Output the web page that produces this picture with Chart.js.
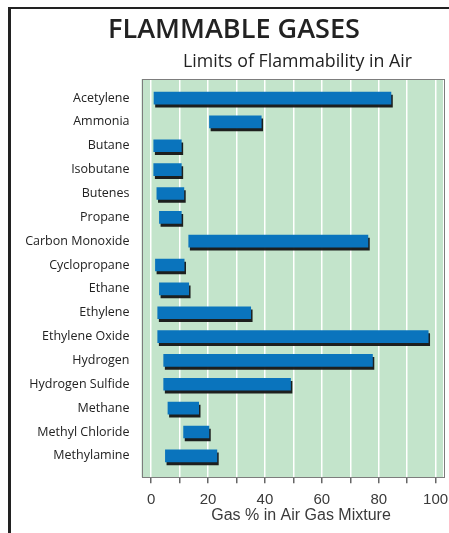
<!DOCTYPE html>
<html>
<head>
<meta charset="utf-8">
<title>Flammable Gases</title>
<script src="https://cdn.jsdelivr.net/npm/chart.js@4.4.1/dist/chart.umd.min.js"></script>
<style>
  html, body { margin: 0; padding: 0; background: #fff; }
  #wrap { position: relative; width: 449px; height: 533px; overflow: hidden; }
  #frame {
    position: absolute; left: 8px; top: 7px; right: -10px; bottom: -10px;
    border-left: 3px solid #222; border-top: 2px solid #222;
  }
  canvas { position: absolute; left: 0; top: 0; }
</style>
</head>
<body>
<div id="wrap">
  <div id="frame"></div>
  <canvas id="gasChart" width="449" height="533"></canvas>
</div>
<script>
// chart data
const gases = ['Acetylene', 'Ammonia', 'Butane', 'Isobutane', 'Butenes', 'Propane',
  'Carbon Monoxide', 'Cyclopropane', 'Ethane', 'Ethylene', 'Ethylene Oxide',
  'Hydrogen', 'Hydrogen Sulfide', 'Methane', 'Methyl Chloride', 'Methylamine'];
const lowerLimit = [1.0, 20.5, 0.9, 0.9, 2.0, 2.9, 13.2, 1.5, 2.9, 2.3, 2.3, 4.4, 4.4, 5.9, 11.4, 5.0];
const upperLimit = [84.3, 38.7, 10.6, 10.6, 11.5, 10.6, 76.2, 11.6, 13.2, 35.0, 97.4, 77.8, 49.0, 16.7, 20.3, 23.1];
const xTicks = [0, 10, 20, 30, 40, 50, 60, 70, 80, 90, 100];

const mainTitle = 'FLAMMABLE GASES';
const subTitle = 'Limits of Flammability in Air';
const xTitle = 'Gas % in Air Gas Mixture';

const plotGreen = '#c3e4cb';
const barBlue = '#0a74bd';
const textDark = '#222';
const axisGrey = '#3a3a3a';
const axisFont = '"Liberation Sans", Arial, sans-serif';
const labelFont = '"Open Sans", "Noto Sans", sans-serif';

// font size that makes a text span a given width
function fitSize(ctx, text, weight, family, width) {
  ctx.font = weight + ' 20px ' + family;
  return 20 * width / ctx.measureText(text).width;
}

// green plot background + grey frame round it
const plotBackground = {
  id: 'plotBackground',
  beforeDraw(chart) {
    const { ctx, chartArea: a } = chart;
    ctx.save();
    ctx.fillStyle = plotGreen;
    ctx.fillRect(a.left, a.top, a.right - a.left, a.bottom - a.top);
    ctx.restore();
  },
  afterDraw(chart) {
    const { ctx, chartArea: a } = chart;
    ctx.save();
    ctx.strokeStyle = '#7d7d7d';
    ctx.lineWidth = 1;
    ctx.strokeRect(Math.round(a.left) + 0.5, Math.round(a.top) + 0.5,
      Math.round(a.right - a.left), Math.round(a.bottom - a.top));
    ctx.restore();
  }
};

// dark drop shadow under the bars
const barShadow = {
  id: 'barShadow',
  beforeDatasetsDraw(chart) {
    const ctx = chart.ctx;
    ctx.save();
    ctx.shadowColor = 'rgba(20, 20, 20, 0.95)';
    ctx.shadowOffsetX = 1.5;
    ctx.shadowOffsetY = 3;
    ctx.shadowBlur = 0;
  },
  afterDatasetsDraw(chart) {
    chart.ctx.restore();
  }
};

// headings above the plot, axis caption below it
const headings = {
  id: 'headings',
  afterDraw(chart) {
    const ctx = chart.ctx;
    ctx.save();
    ctx.fillStyle = textDark;
    ctx.textAlign = 'center';
    ctx.textBaseline = 'alphabetic';
    let size = fitSize(ctx, mainTitle, '600', labelFont, 252);
    ctx.font = '600 ' + size + 'px ' + labelFont;
    ctx.fillText(mainTitle, 234, 37.5);
    size = fitSize(ctx, subTitle, '500', labelFont, 229);
    ctx.font = '500 ' + size + 'px ' + labelFont;
    ctx.fillText(subTitle, 297.5, 66.7);
    ctx.fillStyle = axisGrey;
    ctx.font = '16px ' + axisFont;
    ctx.fillText(xTitle, 301, 520);
    ctx.restore();
  }
};

const ctx = document.getElementById('gasChart').getContext('2d');
const gasChart = new Chart(ctx, {
  type: 'bar',
  data: {
    datasets: [{
      label: 'Flammable range',
      data: gases.map((g, i) => ({ x: [lowerLimit[i], upperLimit[i]], y: i })),
      backgroundColor: barBlue,
      borderWidth: 0,
      borderSkipped: false,
      barThickness: 12
    }]
  },
  options: {
    indexAxis: 'y',
    responsive: false,
    animation: false,
    devicePixelRatio: 1,
    layout: { padding: { left: 0, right: 6, top: 79, bottom: 0 } },
    plugins: {
      legend: { display: false },
      tooltip: { enabled: false }
    },
    scales: {
      x: {
        type: 'linear',
        position: 'bottom',
        min: -3.4,
        max: 102.6,
        afterBuildTicks: scale => { scale.ticks = xTicks.map(v => ({ value: v })); },
        afterFit: scale => {
          scale.height = 55.7;
          scale.paddingLeft = 0;
          scale.paddingRight = 0;
        },
        grid: {
          color: '#ffffff',
          lineWidth: 1.5,
          drawTicks: true,
          tickLength: 6,
          tickColor: '#666',
          tickWidth: 1.5
        },
        border: { display: false },
        ticks: {
          autoSkip: false,
          maxRotation: 0,
          padding: 8,
          color: axisGrey,
          font: { family: axisFont, size: 15 },
          callback: value => (value % 20 === 0 ? value : '')
        }
      },
      y: {
        type: 'linear',
        reverse: true,
        offset: false,
        min: -0.8,
        max: 15.9,
        afterBuildTicks: scale => { scale.ticks = gases.map((g, i) => ({ value: i })); },
        afterFit: scale => {
          scale.width = 141.5;
          scale.paddingTop = 0;
          scale.paddingBottom = 0;
        },
        grid: { display: false, drawTicks: false, offset: false },
        border: { display: false },
        ticks: {
          autoSkip: false,
          padding: 12,
          color: textDark,
          font: { family: labelFont, size: 12.5 },
          callback: value => gases[value]
        }
      }
    }
  },
  plugins: [plotBackground, barShadow, headings]
});
</script>
</body>
</html>
